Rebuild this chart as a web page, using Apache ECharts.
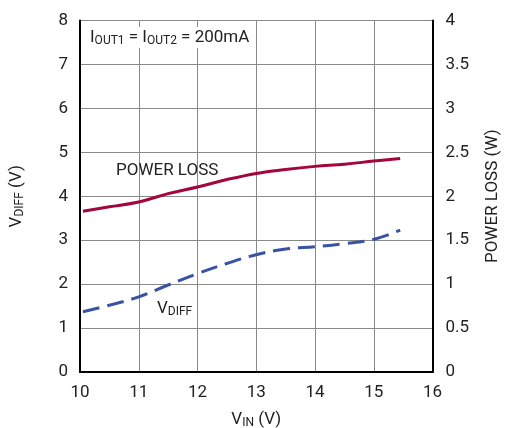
<!DOCTYPE html>
<html><head><meta charset="utf-8">
<script src="https://cdn.jsdelivr.net/npm/echarts@6/dist/echarts.min.js"></script>
<style>html,body{margin:0;padding:0;background:#fff}#c{width:505px;height:428px}</style>
</head><body><div id="c"></div>
<script>
var vin = [10.05, 10.5, 11, 11.5, 12, 12.5, 13, 13.5, 14, 14.5, 15, 15.45];
var powerLoss = [1.83, 1.88, 1.935, 2.03, 2.105, 2.19, 2.26, 2.305, 2.34, 2.365, 2.40, 2.43];
var vdiff = [1.37, 1.52, 1.71, 1.98, 2.24, 2.47, 2.67, 2.80, 2.85, 2.92, 3.02, 3.23];
var leftTicks = [0, 1, 2, 3, 4, 5, 6, 7, 8];
var rightTicks = [0, 0.5, 1, 1.5, 2, 2.5, 3, 3.5, 4];
var xTicks = [10, 11, 12, 13, 14, 15, 16];

var FONT = '"Liberation Sans Narrow", "Roboto", sans-serif';
var FS = 17;
function pairs(xs, ys){ return xs.map(function(x,i){return [x, ys[i]];}); }
var chart = echarts.init(document.getElementById('c'), null, {renderer:'canvas'});
var gridColor = '#8a8a8a';
chart.setOption({
  animation:false,
  backgroundColor:'#fff',
  textStyle:{fontFamily:FONT},
  grid:{left:80, right:72.5, top:20.5, height:351.5, show:false, containLabel:false, outerBoundsMode:'none'},
  xAxis:{type:'value', min:xTicks[0], max:xTicks[xTicks.length-1], interval:1,
    axisLine:{show:true, onZero:false, lineStyle:{color:'#000', width:2}},
    axisTick:{show:false},
    splitLine:{show:true, lineStyle:{color:gridColor, width:1}},
    axisLabel:{color:'#222', fontSize:FS, fontFamily:FONT, margin:12},
    name:'{m|V}{s|IN}{m| (V)}', nameLocation:'middle', nameGap:39,
    nameTextStyle:{rich:{m:{fontSize:FS, fontFamily:FONT, color:'#222'}, s:{fontSize:12, fontFamily:FONT, color:'#222', verticalAlign:'bottom', padding:[6,0,0,0]}}}
  },
  yAxis:[{type:'value', min:leftTicks[0], max:leftTicks[leftTicks.length-1], interval:1,
    axisLine:{show:true, onZero:false, lineStyle:{color:'#000', width:2}},
    axisTick:{show:false},
    splitLine:{show:true, lineStyle:{color:gridColor, width:1}},
    axisLabel:{color:'#222', fontSize:FS, fontFamily:FONT, margin:12},
    name:'{m|V}{s|DIFF}{m| (V)}', nameLocation:'middle', nameGap:54, nameRotate:90,
    nameTextStyle:{rich:{m:{fontSize:FS, fontFamily:FONT, color:'#222'}, s:{fontSize:12, fontFamily:FONT, color:'#222', verticalAlign:'bottom', padding:[6,0,0,0]}}}
  },{type:'value', min:rightTicks[0], max:rightTicks[rightTicks.length-1], interval:0.5, position:'right',
    axisLine:{show:true, onZero:false, lineStyle:{color:'#000', width:2}},
    axisTick:{show:false},
    splitLine:{show:false},
    axisLabel:{color:'#222', fontSize:FS, fontFamily:FONT, margin:13},
    name:'POWER LOSS (W)', nameLocation:'middle', nameGap:52, nameRotate:90,
    nameTextStyle:{fontSize:FS, fontFamily:FONT, color:'#222'}
  }],
  series:[
    {type:'line', name:'POWER LOSS', yAxisIndex:1, data:pairs(vin, powerLoss), smooth:0.4, showSymbol:false,
      lineStyle:{color:'#a3063c', width:3}, z:3},
    {type:'line', name:'VDIFF', yAxisIndex:0, data:pairs(vin, vdiff), smooth:0.4, showSymbol:false,
      lineStyle:{color:'#3952a3', width:3, type:[17,8]}, z:3}
  ],
  graphic:[
    {type:'text', left:88, top:27, z:10, style:{
      text:'{m|I}{s|OUT1}{m| = I}{s|OUT2}{m| = 200mA}',
      backgroundColor:'#fff', padding:[1,2,1,2],
      rich:{m:{fontSize:FS, fontFamily:FONT, fill:'#222'}, s:{fontSize:12, fontFamily:FONT, fill:'#222', verticalAlign:'bottom', padding:[7,0,0,0]}}}},
    {type:'text', left:116, top:162, z:10, style:{text:'POWER LOSS', fontSize:FS, fontFamily:FONT, fill:'#222'}},
    {type:'text', left:155, top:298, z:10, style:{
      text:'{m|V}{s|DIFF}', backgroundColor:'#fff', padding:[1,2,3,2],
      rich:{m:{fontSize:FS, fontFamily:FONT, fill:'#222'}, s:{fontSize:12, fontFamily:FONT, fill:'#222', verticalAlign:'bottom', padding:[7,0,0,0]}}}}
  ]
});
</script></body></html>
